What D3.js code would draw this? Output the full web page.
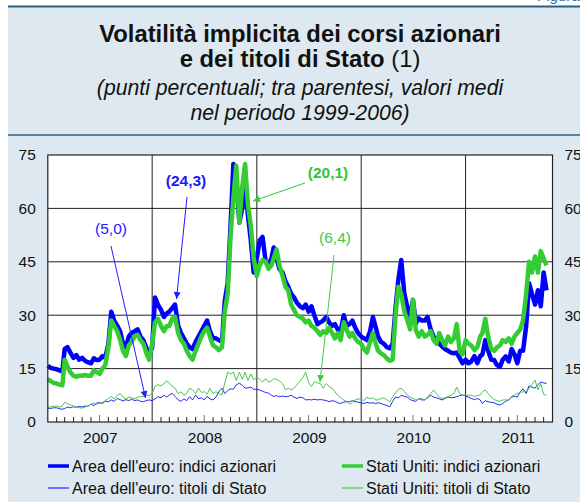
<!DOCTYPE html>
<html>
<head>
<meta charset="utf-8">
<script src="https://cdn.jsdelivr.net/npm/d3@7"></script>
<style>
  body { margin: 0; background: #fff; }
  svg { display: block; font-family: "Liberation Sans", Arial, Helvetica, sans-serif; }
</style>
</head>
<body>
<div id="chart"></div>
<script>
// sampled on the 1st, 11th and 21st of each month, Jan 2007 - 11 Oct 2011
const euroEquity = [
  15.8,15.2,15.0, 14.8,14.5,14.2, 20.5,21.0,19.5, 18.0,18.8,17.5, 18.0,17.2,16.8, 16.5,17.9,17.4,
  17.5,18.5,18.0, 22.0,31.0,28.5, 27.0,25.5,22.0, 21.0,24.0,25.0, 25.5,26.0,24.0, 23.0,21.0,18.5,
  21.0,35.0,33.0, 31.5,29.5,30.5, 31.0,32.0,33.0, 27.0,25.0,23.5, 22.0,21.0,20.5, 22.5,24.0,25.5,
  27.0,28.5,25.5, 23.5,23.5,23.0, 22.5,34.0,39.0, 55.0,72.5,68.0, 56.0,60.0,66.0, 58.0,51.0,42.0,
  46.0,51.0,52.0, 45.0,44.0,46.0, 49.0,46.0,43.0, 42.0,39.5,38.0, 36.0,35.0,33.5, 32.5,32.0,33.0,
  31.0,32.5,30.0, 27.5,28.0,28.5, 29.5,28.0,27.0, 27.5,26.0,25.5, 30.0,27.0,27.5, 28.5,26.5,25.0,
  24.0,23.5,23.0, 25.5,29.5,26.5, 24.0,22.5,22.0, 21.0,20.7,22.0, 32.0,40.0,45.5, 36.0,32.4,29.6,
  34.3,27.7,29.1, 28.5,28.5,29.5, 26.0,24.0,23.0, 22.0,21.2,20.5, 20.0,19.5,19.3, 19.5,18.0,16.5,
  17.5,16.5,17.0, 18.5,16.5,18.5, 19.0,23.0,20.0, 17.5,17.4,16.0, 15.5,17.5,18.4, 17.0,20.5,19.0,
  16.5,20.0,20.0, 27.0,39.0,36.0, 33.0,37.0,32.5, 42.0,37.0
];
const usEquity = [
  12.0,11.5,11.0, 10.8,10.5,10.3, 17.5,15.5,14.0, 13.0,12.7,13.0, 13.0,13.2,13.0, 13.0,14.5,14.0,
  13.5,15.0,16.0, 21.0,28.5,27.0, 25.5,23.0,20.0, 18.5,21.5,22.5, 24.0,24.5,23.0, 22.0,19.5,17.5,
  22.0,28.0,29.0, 27.0,25.5,27.0, 27.0,29.0,29.5, 25.0,23.0,22.0, 20.0,18.5,17.5, 20.0,22.0,24.0,
  25.5,26.5,24.0, 21.5,21.0,20.2, 21.0,31.0,36.0, 52.0,63.0,72.0, 56.0,66.0,72.5, 61.0,55.0,46.0,
  41.0,44.0,45.5, 45.0,43.0,44.0, 46.0,48.5,44.0, 41.0,38.0,37.0, 33.0,31.5,30.0, 29.5,29.0,28.0,
  28.5,27.0,26.5, 25.5,24.5,25.5, 25.0,26.5,25.0, 23.5,25.0,23.0, 28.0,26.0,24.0, 25.0,23.5,22.5,
  22.0,20.5,19.5, 22.5,25.0,22.0, 20.0,19.3,18.8, 17.8,17.2,17.5, 30.0,38.0,36.0, 31.0,28.7,26.0,
  34.3,25.8,24.0, 25.5,24.0,24.5, 25.5,23.0,22.0, 25.0,23.0,21.5, 24.0,22.5,23.5, 27.5,20.0,19.0,
  23.0,22.0,21.5, 20.2,21.0,24.0, 25.0,29.0,24.0, 20.5,20.0,21.0, 21.5,23.0,22.5, 23.5,22.0,24.0,
  25.0,26.0,28.5, 36.0,45.0,42.0, 46.5,42.0,48.0, 46.0,44.0
];
const euroBonds = [
  3.9,3.8,4.0, 4.0,3.7,3.6, 3.8,4.2,4.0, 4.3,4.1,4.4, 4.2,4.5,4.4, 5.0,4.6,5.3,
  5.5,5.2,5.8, 5.7,6.2,5.8, 6.6,6.3,5.9, 6.3,6.0,6.4, 6.0,6.2,5.8, 5.7,6.0,6.2,
  6.0,6.5,7.1, 6.8,7.5,7.0, 7.6,8.0,7.2, 6.2,5.8,6.5, 6.0,7.1,6.2, 7.6,6.5,6.8,
  6.2,7.2,6.5, 6.2,7.0,8.5, 9.5,8.0,8.8, 9.3,9.2,10.4, 10.9,10.3,9.5, 9.6,9.8,9.2,
  9.2,9.0,8.6, 8.3,8.1,7.5, 7.2,7.4,7.1, 7.3,7.1,7.2, 7.5,7.0,6.6, 7.0,6.8,6.2,
  6.3,6.2,6.4, 6.2,6.3,6.2, 6.0,5.7,6.0, 5.8,5.4,5.2, 5.6,5.7,5.7, 6.0,5.7,5.6,
  5.4,5.2,5.5, 5.3,5.4,5.2, 5.4,5.2,4.9, 4.6,4.3,5.8, 7.0,6.8,7.5, 7.2,7.0,6.3,
  6.0,5.8,6.6, 6.2,6.2,6.8, 7.5,7.0,6.8, 6.5,6.2,6.6, 7.0,6.8,6.9, 7.1,7.4,7.6,
  7.3,7.0,6.6, 6.3,6.6,6.2, 5.2,6.0,5.7, 5.5,5.4,5.0, 4.8,5.2,5.8, 6.2,7.0,7.2,
  7.0,8.5,9.3, 8.0,10.2,9.8, 9.5,10.5,11.2, 11.0,10.8
];
const usBonds = [
  4.1,4.3,4.4, 4.5,4.2,4.6, 5.5,5.2,4.8, 4.5,4.2,4.0, 3.9,4.2,4.5, 5.0,5.3,5.0,
  5.2,5.5,6.0, 6.6,7.2,6.5, 7.5,8.0,7.0, 6.5,7.0,6.8, 6.5,7.0,7.1, 7.2,7.6,7.4,
  8.0,10.0,10.5, 10.2,10.8,11.5, 11.0,10.0,9.5, 8.0,8.5,7.5, 8.0,9.5,9.0, 8.0,9.5,8.3,
  8.5,7.8,9.4, 8.0,8.5,8.0, 7.6,11.0,14.0, 13.5,14.0,11.7, 14.0,12.0,14.0, 11.7,13.5,11.8,
  12.7,12.0,11.2, 12.2,11.2,11.5, 12.2,12.0,11.5, 10.8,9.0,9.5, 9.0,9.5,10.5, 11.5,12.5,14.0,
  11.0,10.0,11.3, 11.0,10.8,9.5, 10.8,10.0,9.5, 8.5,7.5,6.8, 6.2,5.8,5.0, 5.5,6.2,6.5,
  6.4,6.0,7.0, 6.5,6.8,6.2, 6.2,6.6,6.8, 6.2,5.7,7.0, 8.2,9.2,9.5, 8.6,7.6,7.0,
  6.6,6.2,6.4, 6.6,6.2,7.0, 8.0,9.0,8.0, 7.0,6.6,6.8, 7.1,7.5,8.0, 9.8,8.0,7.5,
  7.6,7.5,7.5, 7.2,7.4,7.6, 8.5,9.0,8.0, 7.0,6.3,6.0, 5.8,6.2,6.2, 6.2,7.2,7.6,
  8.0,8.3,8.5, 8.5,9.5,10.5, 11.8,9.0,10.8, 7.8,7.5
];

const yTicks = [0, 15, 30, 45, 60, 75];
const years = [2007, 2008, 2009, 2010, 2011];
const sampleDays = [1, 11, 21];
const lastSample = "2011-10-11";

const titleLines = ["Volatilità implicita dei corsi azionari", "e dei titoli di Stato"];
const subtitleLines = ["(punti percentuali; tra parentesi, valori medi", "nel periodo 1999-2006)"];

const seriesNames = [
  "Area dell'euro: indici azionari",
  "Stati Uniti: indici azionari",
  "Area dell'euro: titoli di Stato",
  "Stati Uniti: titoli di Stato"
];

const parseDate = d3.timeParse("%Y-%m-%d");
const dates = [];
years.forEach(yr => d3.range(12).forEach(m => sampleDays.forEach(dd => {
  const s = `${yr}-${String(m + 1).padStart(2, "0")}-${String(dd).padStart(2, "0")}`;
  if (s <= lastSample) dates.push(parseDate(s));
})));

const width = 580, height = 502;
const plot = { left: 47.8, right: 552.5, top: 155, bottom: 422 };

const svg = d3.select("#chart").append("svg")
  .attr("width", width).attr("height", height);

const defs = svg.append("defs");
function arrowHead(id, color) {
  defs.append("marker")
    .attr("id", id)
    .attr("viewBox", "0 0 10 10")
    .attr("refX", 10).attr("refY", 5)
    .attr("markerWidth", 9).attr("markerHeight", 7)
    .attr("markerUnits", "userSpaceOnUse")
    .attr("orient", "auto")
    .append("path").attr("d", "M0,0 L10,5 L0,10 Z").attr("fill", color);
}
arrowHead("arrBlue", "#2020ff");
arrowHead("arrGreen", "#3ec83e");

// panel
svg.append("rect").attr("x", 8).attr("y", 7).attr("width", width - 8).attr("height", height - 7).attr("fill", "#dde8f0");
svg.append("line").attr("x1", 8).attr("x2", width).attr("y1", 6.5).attr("y2", 6.5)
  .attr("stroke", "#24617f").attr("stroke-width", 2.2);
svg.append("line").attr("x1", 8).attr("x2", width).attr("y1", 135).attr("y2", 135)
  .attr("stroke", "#2d6280").attr("stroke-width", 1.6);
svg.append("text").attr("x", 537).attr("y", 0.5).attr("font-size", 15).attr("fill", "#2d6ea8").text("Figura");

// titles
const cx = 300;
svg.append("text").attr("x", cx).attr("y", 42).attr("text-anchor", "middle")
  .attr("font-size", 23.8).attr("font-weight", "bold").attr("fill", "#111").text(titleLines[0]);
const t2 = svg.append("text").attr("x", cx).attr("y", 67).attr("text-anchor", "middle")
  .attr("font-size", 23.8).attr("fill", "#111");
t2.append("tspan").attr("font-weight", "bold").text(titleLines[1] + " ");
t2.append("tspan").text("(1)");
subtitleLines.forEach((s, i) => {
  svg.append("text").attr("x", cx).attr("y", 95 + i * 25).attr("text-anchor", "middle")
    .attr("font-size", 21.2).attr("font-style", "italic").attr("fill", "#111").text(s);
});

// scales
const x = d3.scaleTime()
  .domain([new Date(2007, 0, 1), new Date(2011, 10, 1)])
  .range([plot.left, plot.right]);
const y = d3.scaleLinear().domain([0, 75]).range([plot.bottom, plot.top]);

svg.append("rect").attr("x", plot.left).attr("y", plot.top)
  .attr("width", plot.right - plot.left).attr("height", plot.bottom - plot.top).attr("fill", "#fff");

// grid
svg.append("g").selectAll("line").data(yTicks.slice(1, -1)).join("line")
  .attr("x1", plot.left).attr("x2", plot.right)
  .attr("y1", d => y(d)).attr("y2", d => y(d))
  .attr("stroke", "#222").attr("stroke-width", 1);
svg.append("g").selectAll("line").data(years.slice(1).map(yr => new Date(yr, 0, 1))).join("line")
  .attr("x1", d => x(d)).attr("x2", d => x(d))
  .attr("y1", plot.top).attr("y2", plot.bottom)
  .attr("stroke", "#222").attr("stroke-width", 1);

// monthly ticks
const months = d3.timeMonth.range(new Date(2007, 1, 1), new Date(2011, 10, 1))
  .filter(d => d.getMonth() !== 0);
svg.append("g").selectAll("line").data(months).join("line")
  .attr("x1", d => x(d)).attr("x2", d => x(d))
  .attr("y1", plot.bottom).attr("y2", d => plot.bottom - (d.getMonth() === 6 ? 7 : 5))
  .attr("stroke", d => d.getMonth() === 6 ? "#777" : "#222").attr("stroke-width", 1);

// series
const line = d3.line().x((d, i) => x(dates[i])).y(d => y(d));
const series = [
  { values: euroEquity, color: "#0000ff", w: 4.5 },
  { values: usEquity, color: "#33cc33", w: 4.5 },
  { values: euroBonds, color: "#2626ff", w: 1 },
  { values: usBonds, color: "#47c947", w: 1 }
];
svg.append("g").selectAll("path").data(series).join("path")
  .attr("d", d => line(d.values))
  .attr("fill", "none")
  .attr("stroke", d => d.color)
  .attr("stroke-width", d => d.w)
  .attr("stroke-linejoin", "round");

// frame
svg.append("rect").attr("x", plot.left).attr("y", plot.top)
  .attr("width", plot.right - plot.left).attr("height", plot.bottom - plot.top)
  .attr("fill", "none").attr("stroke", "#222").attr("stroke-width", 1.2);

// axes
const yLeft = svg.append("g").attr("transform", `translate(${plot.left},0)`)
  .call(d3.axisLeft(y).tickValues(yTicks).tickSize(0).tickPadding(12));
const yRight = svg.append("g").attr("transform", `translate(${plot.right},0)`)
  .call(d3.axisRight(y).tickValues(yTicks).tickSize(0).tickPadding(12));
const xAxis = svg.append("g").attr("transform", `translate(0,${plot.bottom})`)
  .call(d3.axisBottom(x).tickValues(years.map(yr => new Date(yr, 6, 2)))
    .tickFormat(d3.timeFormat("%Y")).tickSize(0).tickPadding(10));
[yLeft, yRight, xAxis].forEach(g => {
  g.select(".domain").remove();
  g.selectAll("text").attr("font-size", 15.5).attr("fill", "#111")
    .attr("font-family", "'Liberation Sans', Arial, sans-serif");
});

// annotations
const notes = [
  { label: "(5,0)", bold: false, color: "#2020ff", marker: "arrBlue", tx: 111, ty: 234, from: [111, 246], to: [145.5, 398] },
  { label: "(24,3)", bold: true, color: "#1a1aff", marker: "arrBlue", tx: 186, ty: 186, from: [187, 197], to: [176.5, 299] },
  { label: "(20,1)", bold: true, color: "#33c433", marker: "arrGreen", tx: 328, ty: 178, from: [305, 183], to: [253, 201] },
  { label: "(6,4)", bold: false, color: "#44c844", marker: "arrGreen", tx: 335, ty: 243, from: [334, 255], to: [320, 382] }
];
notes.forEach(n => {
  svg.append("text").attr("x", n.tx).attr("y", n.ty).attr("text-anchor", "middle")
    .attr("font-size", 15.5).attr("font-weight", n.bold ? "bold" : "normal")
    .attr("fill", n.color).text(n.label);
  svg.append("line").attr("x1", n.from[0]).attr("y1", n.from[1])
    .attr("x2", n.to[0]).attr("y2", n.to[1])
    .attr("stroke", n.color).attr("stroke-width", 1)
    .attr("marker-end", `url(#${n.marker})`);
});

// legend
const legendItems = [
  { name: seriesNames[0], color: "#0000ff", w: 3.5, lx: 48, ly: 466 },
  { name: seriesNames[1], color: "#33cc33", w: 3.5, lx: 342, ly: 466 },
  { name: seriesNames[2], color: "#2626ff", w: 1.2, lx: 48, ly: 488 },
  { name: seriesNames[3], color: "#47c947", w: 1.2, lx: 342, ly: 488 }
];
const lg = svg.append("g").selectAll("g").data(legendItems).join("g");
lg.append("line").attr("x1", d => d.lx).attr("x2", d => d.lx + 21)
  .attr("y1", d => d.ly).attr("y2", d => d.ly)
  .attr("stroke", d => d.color).attr("stroke-width", d => d.w);
lg.append("text").attr("x", d => d.lx + 24).attr("y", d => d.ly + 6)
  .attr("font-size", 16).attr("fill", "#111").text(d => d.name);
</script>
</body>
</html>
